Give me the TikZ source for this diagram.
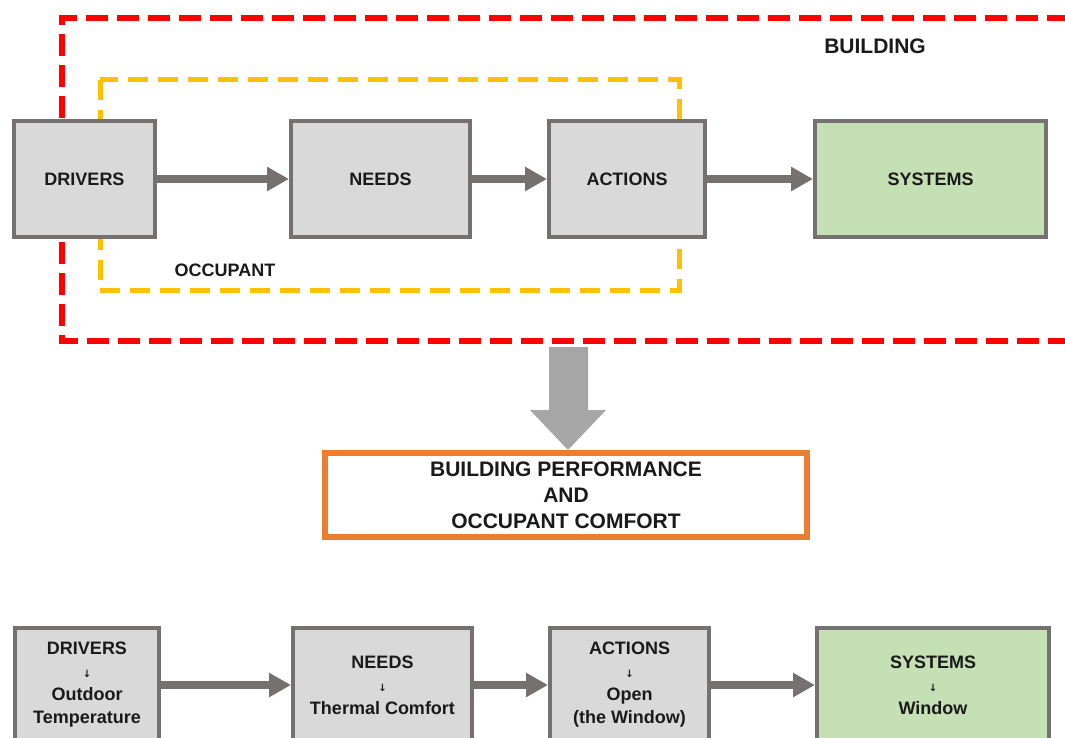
\documentclass[tikz,border=0pt]{standalone}
\usepackage{fontspec}
\setmainfont{Liberation Sans}
\newfontfamily\symfont{DejaVu Sans}
\usetikzlibrary{arrows.meta}
\definecolor{boxgray}{HTML}{D9D9D9}
\definecolor{boxline}{HTML}{767171}
\definecolor{sysgreen}{HTML}{C5E0B4}
\definecolor{bldred}{HTML}{FF0000}
\definecolor{occyellow}{HTML}{FFC000}
\definecolor{perforange}{HTML}{ED7D31}
\definecolor{bigarrowgray}{HTML}{A6A6A6}
\definecolor{txt}{HTML}{1A1A1A}
\tikzset{
  box/.style={draw=boxline, line width=4pt, fill=boxgray, inner sep=0pt,
    font=\bfseries\fontsize{18}{23}\selectfont, text=txt, align=center},
  sysbox/.style={box, fill=sysgreen},
  conn/.style={draw=boxline, line width=8pt, -{Triangle[length=22pt,width=23pt]}},
  lbl/.style={inner sep=0pt, text=txt, font=\bfseries\fontsize{18}{23}\selectfont},
  bldframe/.style={draw=bldred, line width=6pt, dash pattern=on 22pt off 9pt},
  occframe/.style={draw=occyellow, line width=5pt, dash pattern=on 20pt off 10pt},
  perfbox/.style={draw=perforange, line width=6pt, fill=white, inner sep=0pt,
    font=\bfseries\fontsize{21}{26}\selectfont, text=txt, align=center},
}
\newcommand{\dn}{{\symfont\fontsize{10}{10}\selectfont ↓}}
\begin{document}
\begin{tikzpicture}[x=1pt, y=-1pt]
\useasboundingbox (0,0) rectangle (1065,738);
\fill[white] (0,0) rectangle (1065,738);
\begin{scope}
\clip (0,0) rectangle (1065,738);
% frames
\draw[bldframe] (62,180) -- (62,18) -- (1110,18);
\draw[bldframe] (62,180) -- (62,341) -- (1110,341);
\draw[occframe] (100,80) rectangle (679,290);
\node[lbl, font=\bfseries\fontsize{21}{26}\selectfont] (bldlbl) at (875,46) {BUILDING};
\node[lbl] (occlbl) at (225,270) {OCCUPANT};
% top row
\node[box, minimum width=141pt, minimum height=115pt] (d1) at (84.5,179) {DRIVERS};
\node[box, minimum width=179pt, minimum height=115pt] (n1) at (380.5,179) {NEEDS};
\node[box, minimum width=156pt, minimum height=115pt] (a1) at (627,179) {ACTIONS};
\node[sysbox, minimum width=231pt, minimum height=115pt] (s1) at (930.5,179) {SYSTEMS};
\draw[conn] (d1.east) -- (n1.west);
\draw[conn] (n1.east) -- (a1.west);
\draw[conn] (a1.east) -- (s1.west);
% big arrow
\fill[bigarrowgray] (549,347) -- (588,347) -- (588,410) -- (606,410) -- (568,450)
  -- (530,410) -- (549,410) -- cycle;
% performance box
\node[perfbox, minimum width=482pt, minimum height=84pt] (perf) at (566,495)
  {BUILDING PERFORMANCE\\AND\\OCCUPANT COMFORT};
% bottom row
\node[box, minimum width=144pt, minimum height=114pt] (d2) at (87,685)
  {DRIVERS\\\dn\\Outdoor\\Temperature};
\node[box, minimum width=179pt, minimum height=114pt] (n2) at (382.5,685)
  {NEEDS\\\dn\\Thermal Comfort};
\node[box, minimum width=159pt, minimum height=114pt] (a2) at (629.5,685)
  {ACTIONS\\\dn\\Open\\(the Window)};
\node[sysbox, minimum width=232pt, minimum height=114pt] (s2) at (933,685)
  {SYSTEMS\\\dn\\Window};
\draw[conn] (d2.east) -- (n2.west);
\draw[conn] (n2.east) -- (a2.west);
\draw[conn] (a2.east) -- (s2.west);
\end{scope}
\end{tikzpicture}
\end{document}
